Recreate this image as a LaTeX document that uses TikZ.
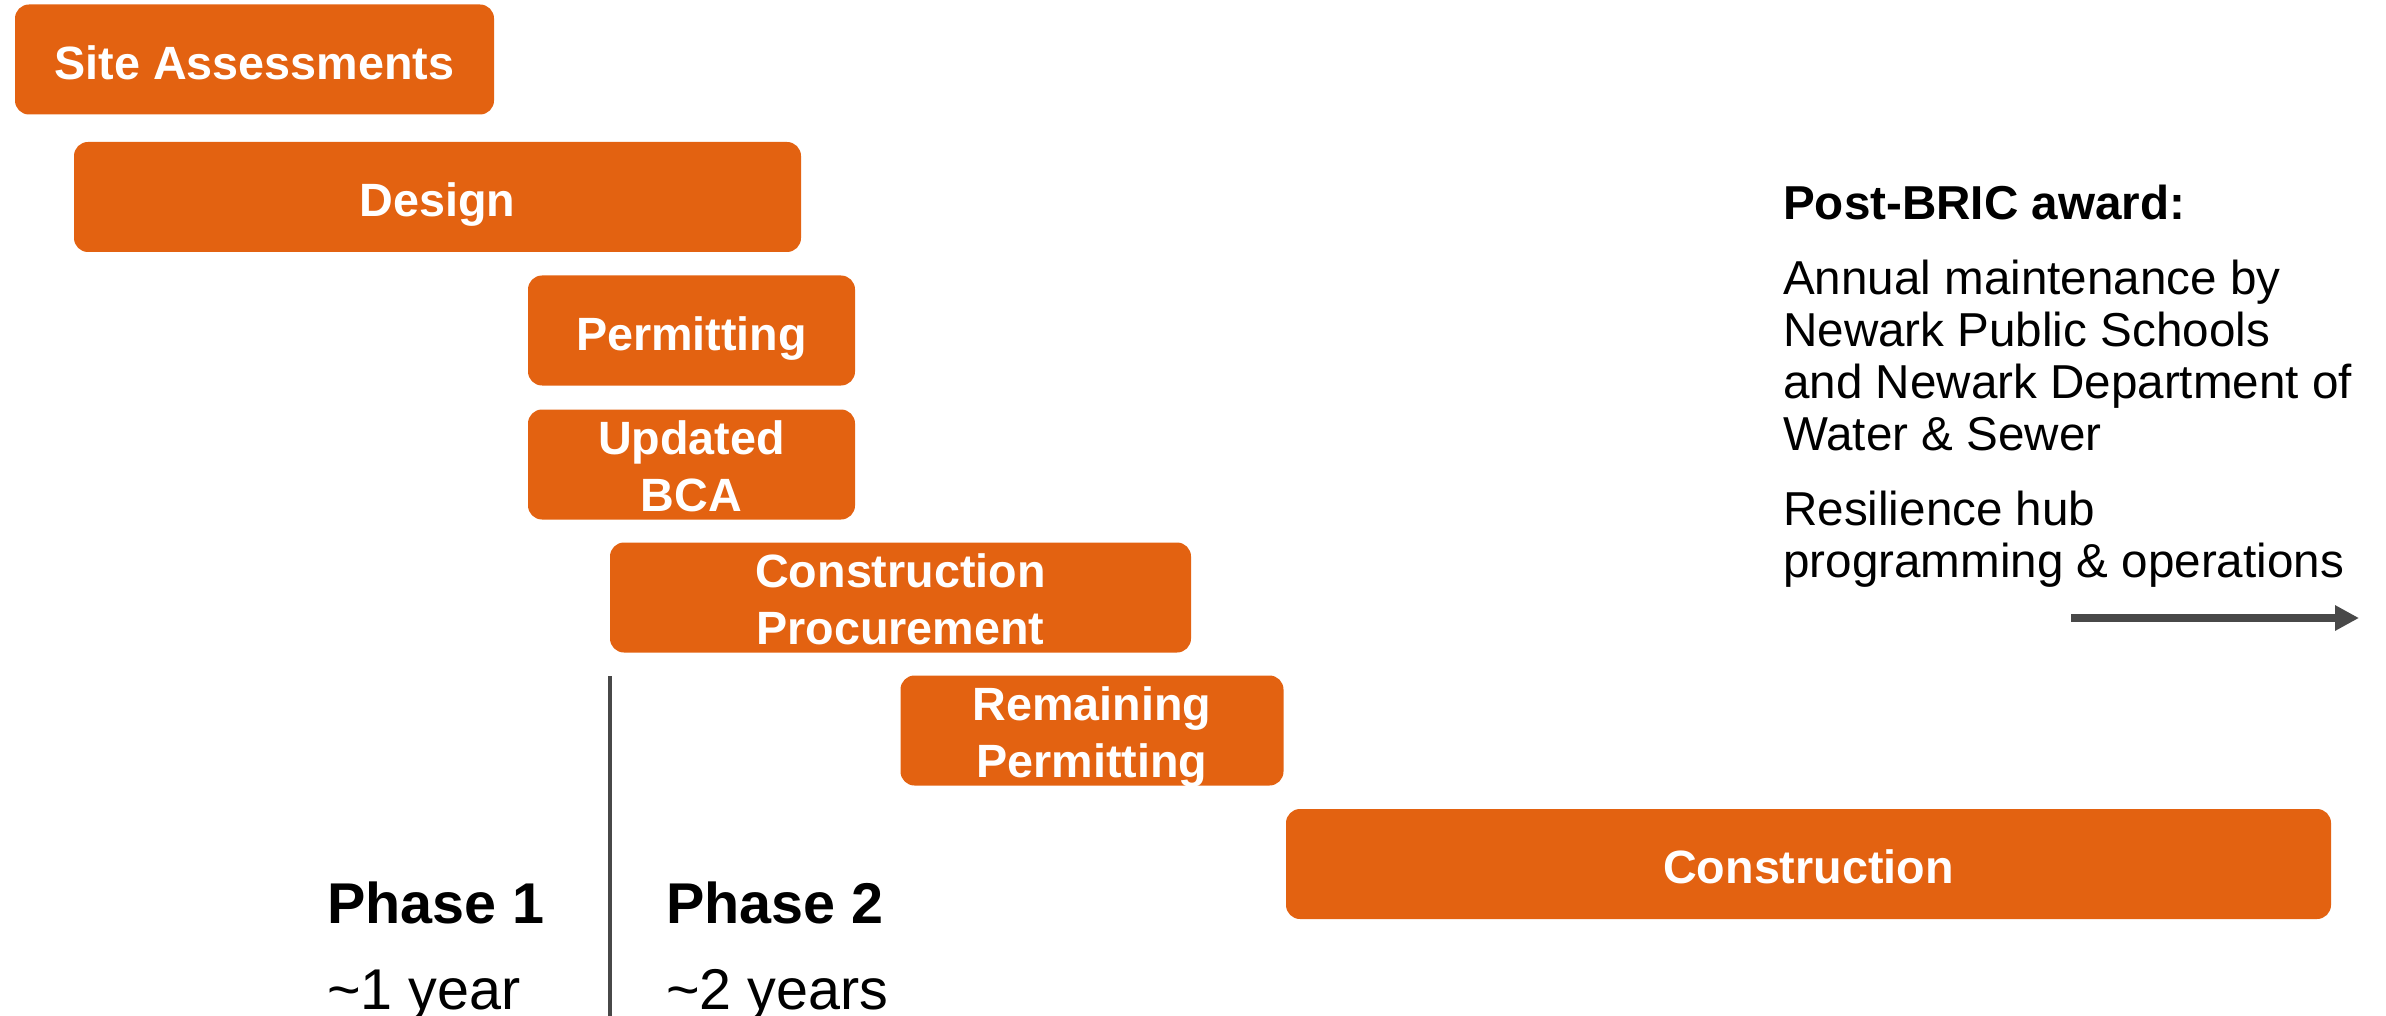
\documentclass[tikz,border=0pt]{standalone}
\usepackage{fontspec}
\setmainfont{Liberation Sans}
\usetikzlibrary{arrows.meta}
\definecolor{barorange}{RGB}{227,98,17}
\definecolor{axisgray}{RGB}{72,72,72}
\begin{document}
\begin{tikzpicture}[x=1pt,y=-1pt,
  bar/.style={fill=barorange, rounded corners=14pt, text=white, inner sep=0pt,
    minimum height=110pt, align=center,
    font=\fontsize{46.7}{57}\selectfont\bfseries},
  oneline/.style={text height=39.4pt, text depth=0pt},
  twoline/.style={text height=94.4pt, text depth=0pt},
  note/.style={anchor=base west, align=left, inner sep=0pt,
    font=\fontsize{47.6}{51.7}\selectfont},
  phase/.style={anchor=base west, inner sep=0pt,
    font=\fontsize{57.5}{60}\selectfont},
  divider/.style={draw=axisgray, line width=4.5pt},
  flow/.style={draw=axisgray, line width=8pt,
    -{Triangle[length=24pt, width=24pt]}}]
  \useasboundingbox (0,0) rectangle (2386,1016);

  % schedule bars
  \node[bar, oneline, minimum width=479pt] (site) at (254.5,59.5) {Site Assessments};
  \node[bar, oneline, minimum width=727pt] (design) at (437.5,197) {Design};
  \node[bar, oneline, minimum width=327pt] (permit) at (691.5,330.5) {Permitting};
  \node[bar, twoline, minimum width=327pt] (bca) at (691.5,464.5) {Updated\\BCA};
  \node[bar, twoline, minimum width=581pt] (procure) at (900.5,597.5) {Construction\\Procurement};
  \node[bar, twoline, minimum width=383pt] (remain) at (1092,730.5) {Remaining\\Permitting};
  \node[bar, oneline, minimum width=1045pt] (build) at (1808.5,864) {Construction};

  % phase split
  \coordinate (divtop) at (610,676);
  \coordinate (divbot) at (610,1016);
  \draw[divider] (divtop) -- (divbot);
  \node[phase, font=\fontsize{57.5}{60}\selectfont\bfseries] (ph1) at (327,923) {Phase 1};
  \node[phase] (dur1) at (327,1009) {\textasciitilde 1 year};
  \node[phase, font=\fontsize{57.5}{60}\selectfont\bfseries] (ph2) at (666,923) {Phase 2};
  \node[phase] (dur2) at (666,1009) {\textasciitilde 2 years};

  % post-award notes (anchored on the last line's baseline)
  \node[note, font=\fontsize{47.6}{51.7}\selectfont\bfseries] (post) at (1783,220) {Post-BRIC award:};
  \node[note] (maint) at (1783,450) {Annual maintenance by\\Newark Public Schools\\and Newark Department of\\Water \& Sewer};
  \node[note] (hub) at (1783,577) {Resilience hub\\programming \& operations};

  \coordinate (flowS) at (2071,618);
  \coordinate (flowE) at (2359,618);
  \draw[flow] (flowS) -- (flowE);
\end{tikzpicture}
\end{document}
